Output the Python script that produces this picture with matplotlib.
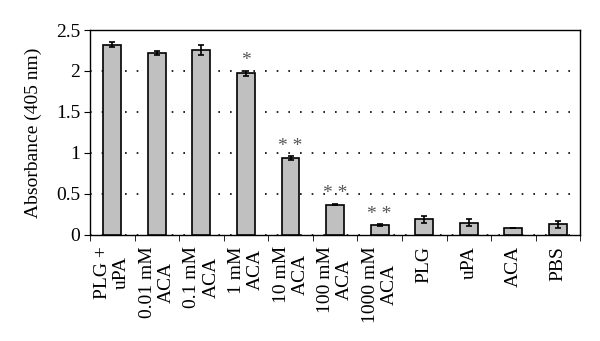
import numpy as np
import matplotlib.pyplot as plt

# data
labels = ['PLG +\nuPA', '0.01 mM\nACA', '0.1 mM\nACA', '1 mM\nACA', '10 mM\nACA',
          '100 mM\nACA', '1000 mM\nACA', 'PLG', 'uPA', 'ACA', 'PBS']
values = [2.32, 2.22, 2.26, 1.97, 0.94, 0.37, 0.12, 0.19, 0.15, 0.085, 0.13]
errors = [0.03, 0.03, 0.06, 0.03, 0.02, 0.01, 0.01, 0.04, 0.04, 0.005, 0.04]
marks = ['', '', '', '*', '* *', '* *', '* *', '', '', '', '']

plt.rcParams['font.family'] = ['Liberation Serif', 'DejaVu Serif']

fig = plt.figure(figsize=(6, 3.41), dpi=100)
ax = fig.add_axes([0.15, 0.311, 0.817, 0.601])

x = np.arange(len(labels))
ax.bar(x, values, width=0.4, color='#c0c0c0', edgecolor='black', linewidth=1.2,
       yerr=errors, capsize=2.5, error_kw=dict(elinewidth=1.2, capthick=1.2), zorder=3)

for xi, v, e, m in zip(x, values, errors, marks):
    if m:
        ax.text(xi, v + e + 0.02, m, ha='center', va='bottom', fontsize=14,
                color='#555555', zorder=4)

ax.set_xlim(-0.5, len(labels) - 0.5)
ax.set_ylim(0, 2.5)
ax.set_yticks([0, 0.5, 1, 1.5, 2, 2.5])
ax.set_yticklabels(['0', '0.5', '1', '1.5', '2', '2.5'], fontsize=14)
ax.yaxis.grid(True, linestyle=(0, (1, 6)), color='black', linewidth=1.2, zorder=0)

ax.set_xticks(x)
ax.set_xticklabels(labels, rotation=90, fontsize=14, linespacing=1.15, va='top')
ax.tick_params(axis='x', which='major', length=0, pad=8)
ax.set_xticks(np.arange(len(labels) + 1) - 0.5, minor=True)
ax.tick_params(axis='x', which='minor', length=4, direction='out')
ax.tick_params(axis='y', length=4, direction='out', pad=3)

ax.set_ylabel('Absorbance (405 nm)', fontsize=14, labelpad=10)
for s in ax.spines.values():
    s.set_linewidth(1.0)

fig.savefig('out.png', dpi=100)
